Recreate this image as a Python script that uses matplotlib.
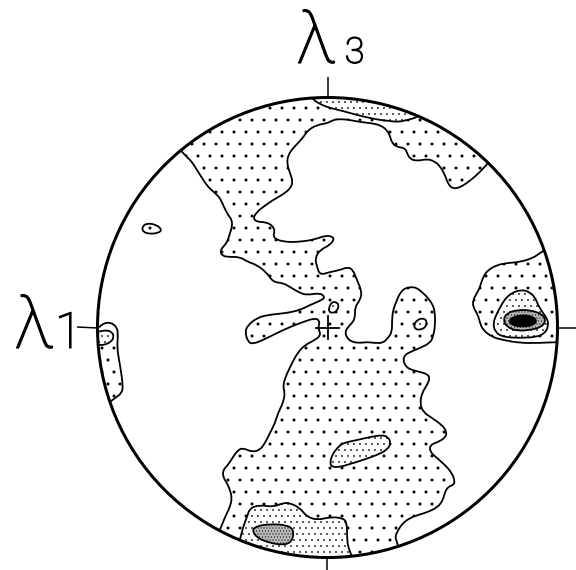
import numpy as np
import matplotlib
matplotlib.use("Agg")
import matplotlib.pyplot as plt
import matplotlib.patheffects as pe
from matplotlib.path import Path
from matplotlib.patches import PathPatch, Circle

# Contour outlines of the pole-density diagram, digitised on a tablet grid
# (net centre at 327.5, 327.5, net radius 230, y grows downward).
NET_CENTRE = (327.5, 327.5)
NET_RADIUS = 230.0

# Lowest contour: the main girdle, traced as its western and eastern edges
# (each edge runs from the primitive circle to the primitive circle).
girdle_west = [
    (182, 152), (187, 157), (192, 162), (197, 170), (202, 178), (208, 187),
    (215, 193), (220, 198), (223, 205), (228, 215), (232, 220), (232, 227),
    (230, 233), (227, 243), (220, 250), (222, 256), (230, 257), (240, 257),
    (248, 262), (257, 265), (267, 273), (273, 282), (283, 283), (290, 287),
    (300, 293), (307, 295), (320, 293), (325, 297), (322, 300), (310, 305),
    (300, 310), (287, 313), (267, 315), (257, 318), (248, 325), (245, 332),
    (248, 342), (253, 344), (263, 340), (277, 333), (290, 327), (303, 322),
    (315, 318), (320, 321), (318, 328), (321, 335), (315, 340), (305, 345),
    (298, 352), (291, 365), (285, 378), (283, 387), (285, 393), (283, 403),
    (278, 413), (275, 423), (270, 433), (265, 443), (260, 450), (252, 452),
    (243, 448), (238, 450), (233, 457), (228, 465), (223, 470), (223, 477),
    (227, 483), (230, 490), (232, 498), (230, 507), (225, 517), (220, 530),
]
girdle_east = [
    (398, 546), (397, 542), (395, 537), (398, 530), (403, 523), (410, 518),
    (418, 515), (428, 512), (438, 507), (443, 500), (445, 492), (448, 487),
    (453, 485), (455, 482), (452, 473), (445, 465), (437, 458), (430, 452),
    (430, 445), (438, 442), (445, 438), (447, 432), (442, 425), (432, 418),
    (423, 412), (420, 403), (422, 393), (427, 385), (430, 378), (427, 374),
    (420, 372), (412, 370), (406, 367), (403, 360), (405, 355), (410, 352),
    (420, 348), (430, 343), (433, 337), (435, 327), (435, 313), (433, 305),
    (428, 298), (423, 293), (417, 288), (412, 287), (405, 288), (400, 293),
    (397, 300), (393, 310), (392, 320), (392, 332), (388, 338), (383, 343),
    (375, 343), (367, 342), (360, 343), (352, 342), (347, 338), (345, 332),
    (348, 327), (353, 322), (355, 317), (355, 307), (360, 300), (362, 292),
    (357, 280), (353, 270), (348, 267), (340, 270), (330, 272), (320, 275),
    (317, 267), (315, 258), (320, 250), (330, 245), (335, 238), (327, 235),
    (313, 240), (297, 242), (287, 242), (277, 240), (273, 236), (275, 231),
    (272, 225), (265, 222), (257, 222), (253, 218), (257, 212), (263, 207),
    (273, 200), (282, 195), (290, 189), (293, 182), (290, 173), (287, 164),
    (288, 155), (294, 147), (302, 139), (308, 130), (317, 125), (328, 123),
    (333, 120), (340, 119), (350, 120), (360, 122), (370, 123), (380, 125),
    (387, 130), (390, 136), (392, 143), (397, 147), (405, 148), (407, 153),
    (410, 159), (417, 161), (427, 159), (434, 161), (440, 166), (445, 175),
    (448, 184), (453, 189), (461, 187), (471, 180), (480, 172), (488, 163),
]

# Lowest contour, other areas
east_max_l1 = [
    (545, 250), (540, 253), (533, 258), (520, 262), (507, 263), (497, 265),
    (488, 270), (483, 277), (480, 287), (477, 293), (473, 300), (473, 307),
    (478, 315), (480, 323), (483, 330), (492, 337), (503, 340), (520, 343),
    (540, 343), (557, 342),
]
west_max_l1 = [
    (99, 328), (102, 324), (110, 322), (117, 327), (118, 335), (117, 348),
    (120, 365), (123, 385), (122, 393), (115, 398), (110, 402),
]
nw_island_l1 = [
    (142, 227), (147, 223), (157, 225), (162, 230), (158, 233), (150, 234),
    (143, 232),
]

# Second contour
north_band_l2 = [
    (312, 98), (315, 101), (322, 105), (330, 108), (343, 111), (357, 115),
    (370, 118), (380, 120), (390, 121), (398, 122), (407, 120), (415, 118),
    (418, 116),
]
south_max_l2 = [
    (240, 540), (243, 527), (247, 517), (250, 508), (260, 505), (273, 507),
    (283, 503), (290, 503), (300, 508), (307, 517), (318, 520), (330, 517),
    (343, 518), (347, 523), (347, 537), (348, 547), (352, 556),
]
west_max_l2 = [
    (98, 332), (106, 330), (112, 332), (114, 337), (111, 342), (104, 345),
    (99, 345),
]
east_max_l2 = [
    (512, 293), (520, 290), (528, 291), (535, 297), (538, 305), (543, 313),
    (548, 320), (548, 327), (545, 333), (537, 337), (520, 338), (503, 337),
    (495, 332), (493, 323), (497, 313), (503, 302), (507, 297),
]
centre_patch_l2 = [
    (330, 463), (332, 455), (338, 447), (343, 443), (357, 440), (370, 437),
    (382, 435), (388, 437), (391, 443), (387, 450), (377, 455), (363, 460),
    (350, 464), (340, 467), (332, 467),
]
centre_islet_l2 = [
    (329, 307), (332, 302), (336, 302), (339, 305), (337, 311), (333, 313),
    (329, 312),
]
east_islet_l2 = [
    (414, 325), (417, 320), (423, 318), (427, 321), (426, 327), (420, 330),
    (415, 329),
]

# Third contour
south_max_l3 = [
    (252, 530), (257, 526), (270, 524), (287, 525), (294, 530), (292, 542),
    (283, 545), (270, 543), (257, 538),
]
east_max_l3 = [
    (503, 320), (507, 313), (517, 310), (530, 310), (542, 314), (546, 320),
    (542, 327), (530, 330), (517, 331), (507, 327),
]

# Highest contour
east_max_l4 = [
    (509, 321), (513, 317), (522, 315), (531, 316), (537, 320), (534, 325),
    (522, 327), (512, 325),
]

# Principal axes marked on the primitive
axis_names = ["λ", "λ"]
axis_indices = ["3", "1"]
tick_azimuths = [90, 180, 0, 270]


def to_net(pts):
    a = np.asarray(pts, dtype=float)
    return np.column_stack(((a[:, 0] - NET_CENTRE[0]) / NET_RADIUS,
                            (NET_CENTRE[1] - a[:, 1]) / NET_RADIUS))


def rim_arc(p_from, p_to, r=1.06, n=60):
    a0 = np.arctan2(p_from[1], p_from[0])
    a1 = np.arctan2(p_to[1], p_to[0])
    d = (a1 - a0 + np.pi) % (2 * np.pi) - np.pi
    t = a0 + d * np.linspace(0, 1, n)
    return np.column_stack((r * np.cos(t), r * np.sin(t)))


def outward(p, r=1.06):
    a = np.arctan2(p[1], p[0])
    return np.array([[r * np.cos(a), r * np.sin(a)]])


def bounded_by_rim(*edges):
    """Join traced edges, closing each gap along the outside of the primitive."""
    parts = []
    nets = [to_net(e) for e in edges]
    for i, e in enumerate(nets):
        nxt = nets[(i + 1) % len(nets)]
        parts.append(e)
        parts.append(outward(e[-1]))
        parts.append(rim_arc(e[-1], nxt[0]))
        parts.append(outward(nxt[0]))
    return np.vstack(parts)


def smooth_path(v):
    v = np.asarray(v)
    mids = (v + np.roll(v, -1, axis=0)) / 2
    verts = [mids[-1]]
    codes = [Path.MOVETO]
    for i in range(len(v)):
        verts += [v[i], mids[i]]
        codes += [Path.CURVE3, Path.CURVE3]
    verts.append(mids[-1])
    codes.append(Path.CLOSEPOLY)
    return Path(verts, codes)


plt.rcParams["hatch.color"] = "black"
plt.rcParams["hatch.linewidth"] = 0.5

W, H, DPI = 576, 570, 72
fig = plt.figure(figsize=(W / DPI, H / DPI), dpi=DPI)
ax = fig.add_axes([0, 0, 1, 1])
scale = NET_RADIUS
ax.set_xlim(-NET_CENTRE[0] / scale, (W - NET_CENTRE[0]) / scale)
ax.set_ylim(-(H - NET_CENTRE[1]) / scale, NET_CENTRE[1] / scale)
ax.axis("off")

primitive = Circle((0, 0), 1.0, transform=ax.transData, facecolor="none",
                   edgecolor="none")
ax.add_patch(primitive)

styles = {
    1: dict(facecolor="white", hatch="."),
    2: dict(facecolor="white", hatch=".."),
    3: dict(facecolor="0.72", hatch="...."),
    4: dict(facecolor="black"),
}

regions = [
    (bounded_by_rim(girdle_west, girdle_east), 1),
    (bounded_by_rim(east_max_l1), 1),
    (bounded_by_rim(west_max_l1), 1),
    (to_net(nw_island_l1), 1),
    (bounded_by_rim(north_band_l2), 2),
    (bounded_by_rim(south_max_l2), 2),
    (bounded_by_rim(west_max_l2), 2),
    (to_net(east_max_l2), 2),
    (to_net(centre_patch_l2), 2),
    (to_net(centre_islet_l2), 2),
    (to_net(east_islet_l2), 2),
    (to_net(south_max_l3), 3),
    (to_net(east_max_l3), 3),
    (to_net(east_max_l4), 4),
]

for verts, level in regions:
    patch = PathPatch(smooth_path(verts), edgecolor="black", linewidth=1.8,
                      zorder=level, **styles[level])
    ax.add_patch(patch)
    patch.set_clip_path(primitive)

# primitive circle
ax.add_patch(Circle((0, 0), 1.0, facecolor="none", edgecolor="black",
                    linewidth=3.0, zorder=10))

# axis ticks on the primitive
for az in tick_azimuths:
    a = np.deg2rad(az)
    ax.plot([np.cos(a), 1.09 * np.cos(a)], [np.sin(a), 1.09 * np.sin(a)],
            color="black", lw=1.5, zorder=10, solid_capstyle="butt")

# centre of the net
c = 0.05
ax.plot([-c, c], [0, 0], color="black", lw=1.8, zorder=11)
ax.plot([0, 0], [-c, c], color="black", lw=1.8, zorder=11)

font = ["Roboto", "DejaVu Sans"]
thick = [pe.withStroke(linewidth=1.2, foreground="black")]
# λ3 at the top of the net, λ1 at the west
ax.text(-0.05, 1.150, axis_names[0], ha="center", va="baseline",
        fontsize=72, family=font, fontweight="light", path_effects=thick)
ax.text(0.075, 1.150, axis_indices[0], ha="left", va="baseline",
        fontsize=36, family=font, fontweight="light", path_effects=thick)
ax.text(-1.276, -0.089, axis_names[1], ha="center", va="baseline",
        fontsize=72, family=font, fontweight="light", path_effects=thick)
ax.text(-1.126, -0.089, axis_indices[1], ha="center", va="baseline",
        fontsize=50, family=font, fontweight="light", path_effects=thick)

fig.savefig("out.png", dpi=DPI)
